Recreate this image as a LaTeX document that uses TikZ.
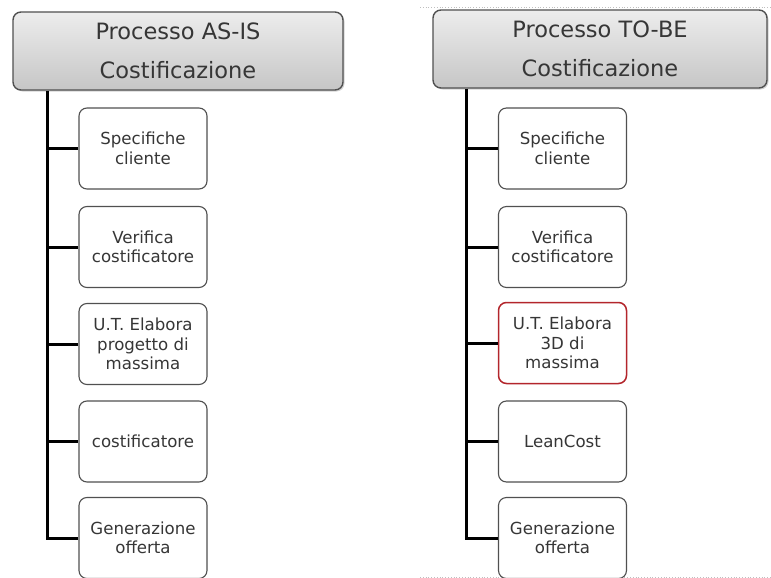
\documentclass[tikz,border=0pt]{standalone}
\usepackage{fontspec}
\setmainfont{DejaVu Sans}
\usetikzlibrary{shadows}
\definecolor{hdrtop}{HTML}{EDEDED}
\definecolor{hdrbot}{HTML}{C6C6C6}
\definecolor{edge}{HTML}{505050}
\definecolor{txt}{HTML}{363636}
\definecolor{hilite}{HTML}{B3262C}
\tikzset{
  header/.style={rounded corners=8pt, draw=edge, line width=1.4pt,
    top color=hdrtop, bottom color=hdrbot, inner sep=0pt,
    minimum height=78pt, text=txt, align=center,
    font=\fontsize{22.5}{39}\selectfont,
    drop shadow={shadow xshift=1.5pt, shadow yshift=-1.5pt, opacity=0.35}},
  task/.style={rounded corners=8pt, draw=edge, line width=1.1pt, fill=white,
    minimum width=128pt, minimum height=81pt, inner sep=0pt,
    text=txt, align=center, font=\fontsize{16.6}{19.5}\selectfont},
  hot/.style={task, draw=hilite, line width=1.5pt},
  trunk/.style={line width=3pt, black},
  panel/.style={draw=black!25, dotted, line width=0.8pt}
}
\begin{document}
\begin{tikzpicture}[x=1pt,y=-1pt]
\useasboundingbox (0,0) rectangle (771,578);

% frame lines around the TO-BE panel
\draw[panel] (420,7) -- (771,7);
\draw[panel] (420,577) -- (771,577);

% ---------- AS-IS ----------
\node[header, minimum width=330pt] (hA) at (178,51) {Processo AS-IS\\Costificazione};
\node[task] (a1) at (143,148.5) {Specifiche\\cliente};
\node[task] (a2) at (143,247)   {Verifica\\costificatore};
\node[task] (a3) at (143,344)   {U.T. Elabora\\progetto di\\massima};
\node[task] (a4) at (143,441.5) {costificatore};
\node[task] (a5) at (143,538)   {Generazione\\offerta};

\coordinate (ta) at (47,0);
\draw[trunk] (hA.south -| ta) -- (a5.west -| ta) -- (a5.west);
\foreach \n in {a1,a2,a3,a4}
  \draw[trunk] (\n.west -| ta) -- (\n.west);

% ---------- TO-BE ----------
\node[header, minimum width=334pt] (hB) at (600,49) {Processo TO-BE\\Costificazione};
\node[task] (b1) at (562.5,148.5) {Specifiche\\cliente};
\node[task] (b2) at (562.5,247)   {Verifica\\costificatore};
\node[hot]  (b3) at (562.5,343)   {U.T. Elabora\\3D di\\massima};
\node[task] (b4) at (562.5,441.5) {LeanCost};
\node[task] (b5) at (562.5,538)   {Generazione\\offerta};

\coordinate (tb) at (466,0);
\draw[trunk] (hB.south -| tb) -- (b5.west -| tb) -- (b5.west);
\foreach \n in {b1,b2,b3,b4}
  \draw[trunk] (\n.west -| tb) -- (\n.west);
\end{tikzpicture}
\end{document}
